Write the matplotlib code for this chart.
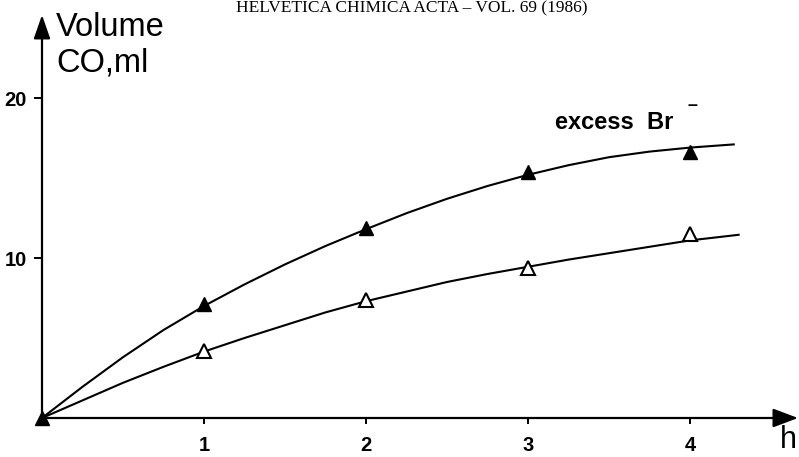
import matplotlib
matplotlib.use("Agg")
import matplotlib.pyplot as plt

# ---- data ----
hours = [0, 1, 2, 3, 4]
co_excess_br = [0, 7.1, 11.9, 15.4, 16.6]     # filled triangles
co_normal = [0, 4.2, 7.4, 9.4, 11.5]          # open triangles

# smooth hand-drawn curves
curve_x = [0, 0.25, 0.5, 0.75, 1.0, 1.25, 1.5, 1.75, 2.0, 2.25, 2.5, 2.75,
           3.0, 3.25, 3.5, 3.75, 4.0, 4.27]
curve_excess = [0, 1.95, 3.8, 5.5, 7.0, 8.35, 9.6, 10.75, 11.8, 12.8, 13.7,
                14.5, 15.2, 15.8, 16.3, 16.65, 16.9, 17.1]
curve_normal_x = [0, 0.25, 0.5, 0.75, 1.0, 1.25, 1.5, 1.75, 2.0, 2.25, 2.5,
                  2.75, 3.0, 3.25, 3.5, 3.75, 4.0, 4.3]
curve_normal = [0, 1.1, 2.2, 3.2, 4.15, 5.0, 5.8, 6.6, 7.3, 7.9, 8.5, 9.0,
                9.45, 9.9, 10.3, 10.7, 11.1, 11.45]

xticks = [1, 2, 3, 4]
yticks = [10, 20]

W, H = 799, 457
fig = plt.figure(figsize=(W / 100, H / 100), dpi=100)
x0, xr, y0, yt = 42, 798, 418, 15
ax = fig.add_axes([x0 / W, (H - y0) / H, (xr - x0) / W, (y0 - yt) / H])
ax.set_xlim(0, (xr - x0) / 162.0)
ax.set_ylim(0, (y0 - yt) / 16.0)
for s in ax.spines.values():
    s.set_visible(False)

# axes with arrows
ax.annotate('', xy=(1, 0), xytext=(0, 0), xycoords='axes fraction',
            arrowprops=dict(arrowstyle='-|>,head_length=0.85,head_width=0.32',
                            lw=1.6, color='black', shrinkA=0, shrinkB=0,
                            mutation_scale=18))
ax.annotate('', xy=(0, 1), xytext=(0, 0), xycoords='axes fraction',
            arrowprops=dict(arrowstyle='-|>,head_length=0.8,head_width=0.28',
                            lw=1.6, color='black', shrinkA=0, shrinkB=0,
                            mutation_scale=18))

ax.plot(curve_x, curve_excess, color='black', lw=1.5, clip_on=False)
ax.plot(curve_normal_x, curve_normal, color='black', lw=1.5, clip_on=False)
ax.plot(hours[1:], co_excess_br[1:], linestyle='none', marker='^', ms=10.5,
        mfc='black', mec='black', clip_on=False)
ax.plot(hours[1:], co_normal[1:], linestyle='none', marker='^', ms=10,
        mfc='white', mec='black', mew=1.5, clip_on=False)
ax.plot(hours[:1], co_excess_br[:1], linestyle='none', marker='^', ms=10,
        mfc='black', mec='black', clip_on=False, zorder=5)

ax.set_xticks(xticks)
ax.set_xticklabels([str(t) for t in xticks])
ax.set_yticks(yticks)
ax.set_yticklabels([str(t) for t in yticks])
ax.tick_params(axis='x', direction='out', length=4, width=1.4, pad=9)
ax.tick_params(axis='y', direction='out', length=6, width=1.4, pad=5)
for lab in ax.get_xticklabels() + ax.get_yticklabels():
    lab.set_fontfamily('Liberation Sans')
    lab.set_fontweight('bold')
    lab.set_fontsize(14.5)

def fx(px):
    return px / W

def fy(py):
    return 1 - py / H

fig.text(fx(56), fy(36), 'Volume', fontsize=23.5, family='Liberation Sans',
         ha='left', va='baseline')
fig.text(fx(56), fy(71), 'CO,ml', fontsize=23.5, family='Liberation Sans',
         ha='left', va='baseline')
fig.text(fx(555), fy(129), 'excess  Br', fontsize=17, fontweight='bold',
         family='Liberation Sans', ha='left', va='baseline')
fig.text(fx(688), fy(110), '\u2013', fontsize=13, fontweight='bold',
         family='Liberation Sans', ha='left', va='baseline')
fig.text(fx(780), fy(448), 'h', fontsize=22, family='Liberation Sans',
         ha='left', va='baseline')
fig.text(fx(412), fy(12), 'HELVETICA CHIMICA ACTA \u2013 VOL. 69 (1986)',
         fontsize=12.5, family='Liberation Serif', ha='center', va='baseline')

fig.savefig('out.png', dpi=100)
